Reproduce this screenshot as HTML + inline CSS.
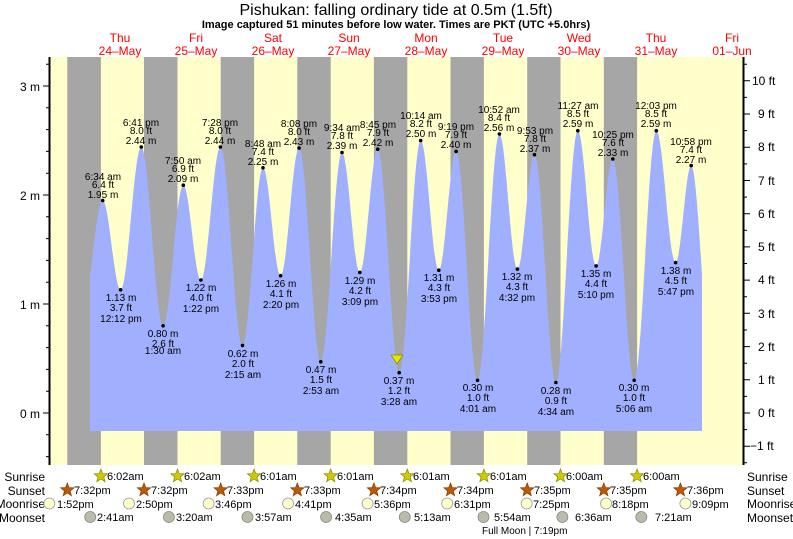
<!DOCTYPE html>
<html><head><meta charset="utf-8"><style>
html,body{margin:0;padding:0;background:#fff;}
svg{display:block;font-family:"Liberation Sans",sans-serif;}
</style></head><body>
<svg width="793" height="539" viewBox="0 0 793 539" xmlns="http://www.w3.org/2000/svg">
<defs>
<clipPath id="cp"><rect x="90" y="57" width="612" height="408"/></clipPath>
<polygon id="star" points="0,-7 1.76,-2.43 6.66,-2.16 2.85,0.93 4.11,5.66 0,3 -4.11,5.66 -2.85,0.93 -6.66,-2.16 -1.76,-2.43"/>
</defs>
<rect x="50" y="57" width="693" height="408" fill="#ffffcc"/>
<g fill="#a6a6a6">
<rect x="67.3" y="57" width="33.6" height="408"/>
<rect x="144.0" y="57" width="33.5" height="408"/>
<rect x="220.7" y="57" width="33.4" height="408"/>
<rect x="297.3" y="57" width="33.4" height="408"/>
<rect x="373.9" y="57" width="33.4" height="408"/>
<rect x="450.5" y="57" width="33.4" height="408"/>
<rect x="527.2" y="57" width="33.3" height="408"/>
<rect x="603.8" y="57" width="33.3" height="408"/>
</g>
<path clip-path="url(#cp)" fill="#a0b0ff" d="M83.3,304 C90.3,304 95.7,200.5 102.7,200.5 C109.1,200.5 114.2,289.8 120.6,289.8 C128.1,289.8 133.8,147 141.3,147 C149.1,147 155.3,325.8 163.1,325.8 C170.4,325.8 176,185.2 183.3,185.2 C189.6,185.2 194.6,280 200.9,280 C207.9,280 213.4,147 220.4,147 C228.4,147 234.5,345.4 242.5,345.4 C249.9,345.4 255.6,167.8 263,167.8 C269.3,167.8 274.3,275.7 280.6,275.7 C287.3,275.7 292.4,148.1 299.1,148.1 C306.9,148.1 313,361.8 320.8,361.8 C328.4,361.8 334.4,152.5 342,152.5 C348.4,152.5 353.4,272.4 359.8,272.4 C366.2,272.4 371.3,149.2 377.7,149.2 C385.4,149.2 391.5,372.7 399.2,372.7 C406.9,372.7 413,140.5 420.7,140.5 C427.2,140.5 432.3,270.2 438.8,270.2 C445,270.2 449.9,151.4 456.1,151.4 C463.8,151.4 469.8,380.3 477.5,380.3 C485.4,380.3 491.5,134 499.4,134 C505.9,134 510.9,269.1 517.4,269.1 C523.6,269.1 528.3,154.7 534.5,154.7 C542.2,154.7 548.2,382.5 555.9,382.5 C563.8,382.5 569.9,130.7 577.8,130.7 C584.4,130.7 589.5,265.9 596.1,265.9 C602.1,265.9 606.8,159 612.8,159 C620.5,159 626.5,380.3 634.2,380.3 C642.2,380.3 648.3,130.7 656.3,130.7 C663.2,130.7 668.7,262.6 675.6,262.6 C681.2,262.6 685.6,165.6 691.2,165.6 C698.9,165.6 704.9,380.3 712.6,380.3 L712.6,431 L83.3,431 Z"/>
<path stroke="#000" stroke-width="1" fill="none" d="M46,456.6H50M46,434.8H50M43,413H50M46,391.2H50M46,369.4H50M46,347.6H50M46,325.8H50M43,304H50M46,282.2H50M46,260.4H50M46,238.6H50M46,216.8H50M43,195H50M46,173.2H50M46,151.4H50M46,129.6H50M46,107.8H50M43,86H50M46,64.2H50
M743,446.2H750M743,413H750M743,379.8H750M743,346.6H750M743,313.3H750M743,280.1H750M743,246.9H750M743,213.7H750M743,180.5H750M743,147.2H750M743,114H750M743,80.8H750
M743,462.8H747M743,429.6H747M743,396.4H747M743,363.2H747M743,330H747M743,296.7H747M743,263.5H747M743,230.3H747M743,197.1H747M743,163.9H747M743,130.6H747M743,97.4H747M743,64.2H747"/>
<line x1="49.5" y1="57" x2="49.5" y2="465" stroke="#000" stroke-width="2"/>
<line x1="743.5" y1="57" x2="743.5" y2="465" stroke="#000" stroke-width="2"/>
<g font-size="12" fill="#000" text-anchor="end">
<text x="40" y="91">3 m</text><text x="40" y="200">2 m</text><text x="40" y="309">1 m</text><text x="40" y="418">0 m</text>
</g>
<g font-size="12" fill="#000">
<text x="752" y="85">10 ft</text><text x="758" y="118">9 ft</text><text x="758" y="151">8 ft</text><text x="758" y="185">7 ft</text><text x="758" y="218">6 ft</text><text x="758" y="251">5 ft</text><text x="758" y="284">4 ft</text><text x="758" y="318">3 ft</text><text x="758" y="351">2 ft</text><text x="758" y="384">1 ft</text><text x="758" y="417">0 ft</text><text x="750" y="450">−1 ft</text>
</g>
<text x="396" y="15" font-size="16" text-anchor="middle">Pishukan: falling  ordinary tide at 0.5m (1.5ft)</text>
<text x="396" y="28" font-size="11" font-weight="bold" text-anchor="middle">Image captured 51 minutes before low water. Times are PKT (UTC +5.0hrs)</text>
<g font-size="12" fill="#ff0000" text-anchor="middle">
<text x="120" y="42">Thu</text><text x="120" y="55">24–May</text>
<text x="196" y="42">Fri</text><text x="196" y="55">25–May</text>
<text x="273" y="42">Sat</text><text x="273" y="55">26–May</text>
<text x="349" y="42">Sun</text><text x="349" y="55">27–May</text>
<text x="426" y="42">Mon</text><text x="426" y="55">28–May</text>
<text x="503" y="42">Tue</text><text x="503" y="55">29–May</text>
<text x="579" y="42">Wed</text><text x="579" y="55">30–May</text>
<text x="656" y="42">Thu</text><text x="656" y="55">31–May</text>
<text x="732" y="42">Fri</text><text x="732" y="55">01–Jun</text>
</g>
<g fill="#000">
<circle cx="102.7" cy="200.5" r="1.8"/><circle cx="120.6" cy="289.8" r="1.8"/><circle cx="141.3" cy="147" r="1.8"/><circle cx="163.1" cy="325.8" r="1.8"/>
<circle cx="183.3" cy="185.2" r="1.8"/><circle cx="200.9" cy="280" r="1.8"/><circle cx="220.4" cy="147" r="1.8"/><circle cx="242.5" cy="345.4" r="1.8"/>
<circle cx="263" cy="167.8" r="1.8"/><circle cx="280.6" cy="275.7" r="1.8"/><circle cx="299.1" cy="148.1" r="1.8"/><circle cx="320.8" cy="361.8" r="1.8"/>
<circle cx="342" cy="152.5" r="1.8"/><circle cx="359.8" cy="272.4" r="1.8"/><circle cx="377.7" cy="149.2" r="1.8"/><circle cx="399.2" cy="372.7" r="1.8"/>
<circle cx="420.7" cy="140.5" r="1.8"/><circle cx="438.8" cy="270.2" r="1.8"/><circle cx="456.1" cy="151.4" r="1.8"/><circle cx="477.5" cy="380.3" r="1.8"/>
<circle cx="499.4" cy="134" r="1.8"/><circle cx="517.4" cy="269.1" r="1.8"/><circle cx="534.5" cy="154.7" r="1.8"/><circle cx="555.9" cy="382.5" r="1.8"/>
<circle cx="577.8" cy="130.7" r="1.8"/><circle cx="596.1" cy="265.9" r="1.8"/><circle cx="612.8" cy="159" r="1.8"/><circle cx="634.2" cy="380.3" r="1.8"/>
<circle cx="656.3" cy="130.7" r="1.8"/><circle cx="675.6" cy="262.6" r="1.8"/><circle cx="691.2" cy="165.6" r="1.8"/>
</g>
<g font-size="10" fill="#000" text-anchor="middle">
<text x="103" y="180">6:34 am</text><text x="103" y="188">6.4 ft</text><text x="103" y="198">1.95 m</text>
<text x="141" y="126">6:41 pm</text><text x="141" y="134">8.0 ft</text><text x="141" y="144">2.44 m</text>
<text x="183" y="164">7:50 am</text><text x="183" y="172">6.9 ft</text><text x="183" y="182">2.09 m</text>
<text x="220" y="126">7:28 pm</text><text x="220" y="134">8.0 ft</text><text x="220" y="144">2.44 m</text>
<text x="263" y="147">8:48 am</text><text x="263" y="155">7.4 ft</text><text x="263" y="165">2.25 m</text>
<text x="299" y="127">8:08 pm</text><text x="299" y="135">8.0 ft</text><text x="299" y="145">2.43 m</text>
<text x="342" y="131">9:34 am</text><text x="342" y="139">7.8 ft</text><text x="342" y="149">2.39 m</text>
<text x="378" y="128">8:45 pm</text><text x="378" y="136">7.9 ft</text><text x="378" y="146">2.42 m</text>
<text x="421" y="119">10:14 am</text><text x="421" y="127">8.2 ft</text><text x="421" y="137">2.50 m</text>
<text x="456" y="130">9:19 pm</text><text x="456" y="138">7.9 ft</text><text x="456" y="148">2.40 m</text>
<text x="499" y="113">10:52 am</text><text x="499" y="121">8.4 ft</text><text x="499" y="131">2.56 m</text>
<text x="535" y="134">9:53 pm</text><text x="535" y="142">7.8 ft</text><text x="535" y="152">2.37 m</text>
<text x="578" y="109">11:27 am</text><text x="578" y="117">8.5 ft</text><text x="578" y="127">2.59 m</text>
<text x="613" y="138">10:25 pm</text><text x="613" y="146">7.6 ft</text><text x="613" y="156">2.33 m</text>
<text x="656" y="109">12:03 pm</text><text x="656" y="117">8.5 ft</text><text x="656" y="127">2.59 m</text>
<text x="691" y="145">10:58 pm</text><text x="691" y="153">7.4 ft</text><text x="691" y="163">2.27 m</text>
<text x="121" y="301">1.13 m</text><text x="121" y="311">3.7 ft</text><text x="121" y="322">12:12 pm</text>
<text x="163" y="337">0.80 m</text><text x="163" y="347">2.6 ft</text><text x="163" y="354">1:30 am</text>
<text x="201" y="291">1.22 m</text><text x="201" y="301">4.0 ft</text><text x="201" y="312">1:22 pm</text>
<text x="243" y="357">0.62 m</text><text x="243" y="367">2.0 ft</text><text x="243" y="378">2:15 am</text>
<text x="281" y="287">1.26 m</text><text x="281" y="297">4.1 ft</text><text x="281" y="308">2:20 pm</text>
<text x="321" y="373">0.47 m</text><text x="321" y="383">1.5 ft</text><text x="321" y="394">2:53 am</text>
<text x="360" y="284">1.29 m</text><text x="360" y="294">4.2 ft</text><text x="360" y="305">3:09 pm</text>
<text x="399" y="384">0.37 m</text><text x="399" y="394">1.2 ft</text><text x="399" y="405">3:28 am</text>
<text x="439" y="281">1.31 m</text><text x="439" y="291">4.3 ft</text><text x="439" y="302">3:53 pm</text>
<text x="478" y="391">0.30 m</text><text x="478" y="401">1.0 ft</text><text x="478" y="412">4:01 am</text>
<text x="517" y="280">1.32 m</text><text x="517" y="290">4.3 ft</text><text x="517" y="301">4:32 pm</text>
<text x="556" y="394">0.28 m</text><text x="556" y="404">0.9 ft</text><text x="556" y="415">4:34 am</text>
<text x="596" y="277">1.35 m</text><text x="596" y="287">4.4 ft</text><text x="596" y="298">5:10 pm</text>
<text x="634" y="391">0.30 m</text><text x="634" y="401">1.0 ft</text><text x="634" y="412">5:06 am</text>
<text x="676" y="274">1.38 m</text><text x="676" y="284">4.5 ft</text><text x="676" y="295">5:47 pm</text>
</g>
<polygon points="391,355 403,355 397,364" fill="#e6e600" stroke="#888800" stroke-width="0.7"/>
<g font-size="12" fill="#000">
<g text-anchor="end"><text x="45" y="481">Sunrise</text><text x="45" y="495">Sunset</text><text x="45" y="508">Moonrise</text><text x="45" y="522">Moonset</text></g>
<text x="747" y="481">Sunrise</text><text x="747" y="495">Sunset</text><text x="747" y="508">Moonrise</text><text x="747" y="522">Moonset</text>
</g>
<g fill="#cccc00" stroke="#888800" stroke-width="0.7">
<use href="#star" x="100.9" y="476"/><use href="#star" x="177.5" y="476"/><use href="#star" x="254.1" y="476"/><use href="#star" x="330.7" y="476"/><use href="#star" x="407.3" y="476"/><use href="#star" x="483.9" y="476"/><use href="#star" x="560.5" y="476"/><use href="#star" x="637.1" y="476"/>
</g>
<g fill="#c05800" stroke="#803800" stroke-width="0.7">
<use href="#star" x="67.3" y="490"/><use href="#star" x="144" y="490"/><use href="#star" x="220.7" y="490"/><use href="#star" x="297.3" y="490"/><use href="#star" x="373.9" y="490"/><use href="#star" x="450.5" y="490"/><use href="#star" x="527.2" y="490"/><use href="#star" x="603.8" y="490"/><use href="#star" x="680.4" y="490"/>
</g>
<g fill="#ffffcc" stroke="#999" stroke-width="0.8">
<circle cx="49.3" cy="503.5" r="5.5"/><circle cx="129" cy="503.5" r="5.5"/><circle cx="208.6" cy="503.5" r="5.5"/><circle cx="288.1" cy="503.5" r="5.5"/><circle cx="367.6" cy="503.5" r="5.5"/><circle cx="447.2" cy="503.5" r="5.5"/><circle cx="526.7" cy="503.5" r="5.5"/><circle cx="606.1" cy="503.5" r="5.5"/><circle cx="685.4" cy="503.5" r="5.5"/>
</g>
<g fill="#bbbbaa" stroke="#888" stroke-width="0.8">
<circle cx="90.2" cy="517" r="5.5"/><circle cx="168.9" cy="517" r="5.5"/><circle cx="247.5" cy="517" r="5.5"/><circle cx="326.1" cy="517" r="5.5"/><circle cx="404.8" cy="517" r="5.5"/><circle cx="483.5" cy="517" r="5.5"/><circle cx="562.4" cy="517" r="5.5"/><circle cx="641.3" cy="517" r="5.5"/>
</g>
<g font-size="11" fill="#000">
<text x="107" y="480">6:02am</text><text x="184" y="480">6:02am</text><text x="260" y="480">6:01am</text><text x="337" y="480">6:01am</text><text x="413" y="480">6:01am</text><text x="490" y="480">6:01am</text><text x="566" y="480">6:00am</text><text x="643" y="480">6:00am</text>
<text x="74" y="494">7:32pm</text><text x="151" y="494">7:32pm</text><text x="227" y="494">7:33pm</text><text x="304" y="494">7:33pm</text><text x="380" y="494">7:34pm</text><text x="457" y="494">7:34pm</text><text x="534" y="494">7:35pm</text><text x="610" y="494">7:35pm</text><text x="687" y="494">7:36pm</text>
<text x="57" y="508">1:52pm</text><text x="136" y="508">2:50pm</text><text x="215" y="508">3:46pm</text><text x="295" y="508">4:41pm</text><text x="374" y="508">5:36pm</text><text x="454" y="508">6:31pm</text><text x="533" y="508">7:25pm</text><text x="612" y="508">8:18pm</text><text x="692" y="508">9:09pm</text>
<text x="97" y="521">2:41am</text><text x="176" y="521">3:20am</text><text x="255" y="521">3:57am</text><text x="335" y="521">4:35am</text><text x="414" y="521">5:13am</text><text x="494" y="521">5:54am</text><text x="575" y="521">6:36am</text><text x="655" y="521">7:21am</text>
<text x="482" y="534" font-size="10">Full Moon | 7:19pm</text>
</g>
</svg>
</body></html>
